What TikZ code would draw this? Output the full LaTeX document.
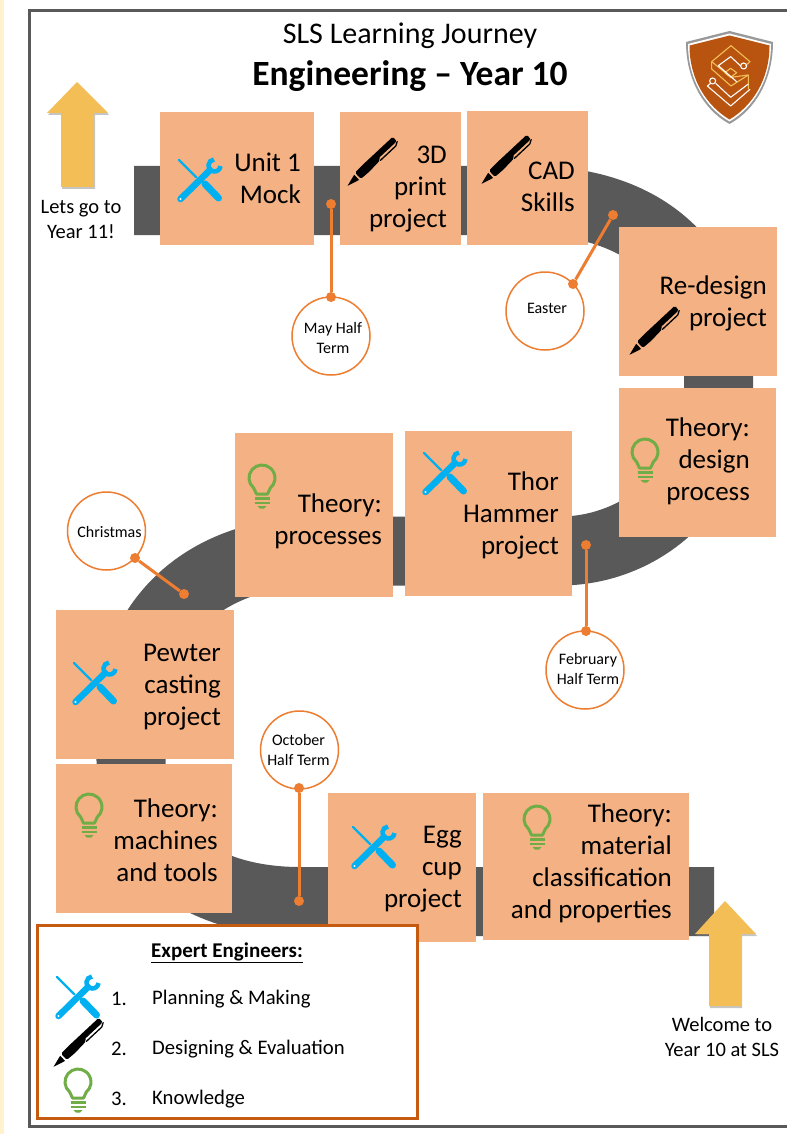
\documentclass[tikz,border=0pt]{standalone}
\usepackage{fontspec}
\setmainfont{Carlito}
\usetikzlibrary{shadows}
\definecolor{roadgrey}{HTML}{595959}
\definecolor{cardfill}{HTML}{F4B183}
\definecolor{pinorange}{HTML}{ED7D31}
\definecolor{boxorange}{HTML}{C55A11}
\definecolor{arrowgold}{HTML}{F4BE56}
\definecolor{toolblue}{HTML}{00B0F0}
\definecolor{bulbgreen}{HTML}{70AD47}
\definecolor{shieldbrown}{HTML}{B85410}
\definecolor{stripcream}{HTML}{FFF2CC}
\tikzset{
  card/.style={fill=cardfill,inner sep=0},
  cardlabel/.style={anchor=east,align=right,inner sep=0,font=\fontsize{27}{32}\selectfont},
  pinbubble/.style={circle,draw=pinorange,line width=1.5pt,fill=white,minimum size=78pt,inner sep=0},
  pinlabel/.style={align=center,inner sep=0,font=\fontsize{16}{20}\selectfont},
  pindot/.style={circle,fill=pinorange,minimum size=10pt,inner sep=0},
  pinline/.style={draw=pinorange,line width=3pt},
  sidelabel/.style={align=center,inner sep=0,font=\fontsize{20.5}{25}\selectfont},
  keylabel/.style={anchor=west,inner sep=0,font=\fontsize{20.7}{24}\selectfont},
  yeararrow/.style={fill=arrowgold,drop shadow={shadow xshift=1pt,shadow yshift=-2pt,opacity=0.45}}
}
\def\toolicon(#1){
  \begin{scope}[shift={(#1)}]
    \draw[toolblue,line width=2.4pt,line cap=round] (-21,-20) -- (-4,-3);
    \draw[toolblue,line width=7pt,line cap=round] (5,4) -- (18.5,18);
    \draw[toolblue,line width=6.5pt,line cap=round] (-19.5,19) -- (10,-10);
    \draw[toolblue,line width=4.5pt] (14.5,-14.5) ++(5:6) arc (5:265:6);
    \fill[white] (-19.5,19) circle (1.1);
  \end{scope}
}
\def\penicon(#1){
  \begin{scope}[shift={(#1)},rotate=43]
    \fill[black] (-33.5,0) -- (-23,-3) -- (-21,-3.5) -- (-21,3.5) -- (-23,3) -- cycle;
    \fill[black,rounded corners=1.5pt] (-19,-4.5) -- (-8,-5) -- (33,-5) -- (33,1) -- (8,1) -- (8,3.5) -- (-8,4.5) -- (-19,4) -- cycle;
    \draw[black,line width=1.3pt,line cap=round] (8,3.8) -- (29,3.8) -- (33,1.5);
  \end{scope}
}
\def\bulbicon(#1){
  \begin{scope}[shift={(#1)}]
    \draw[bulbgreen,line width=3pt,line join=round] (-5.5,8) -- (-8.36,1.96) arc (130:410:13) -- (5.5,8) -- cycle;
    \draw[bulbgreen,line width=2.6pt] (-7.5,12.5) -- (7.5,12.5);
    \draw[bulbgreen,line width=2.6pt] (-7.5,17) -- (7.5,17);
    \fill[bulbgreen] (-4.5,20) -- (4.5,20) -- (2,22.5) -- (-2,22.5) -- cycle;
  \end{scope}
}
\begin{document}
\begin{tikzpicture}[x=1pt,y=-1pt]
  \useasboundingbox (0,0) rectangle (787,1134);
  %%% page
  \fill[white] (0,0) rectangle (787,1134);
  \fill[stripcream] (0,0) rectangle (4,1134);
  \draw[roadgrey,line width=3pt] (787,11) -- (29,11) -- (29,1126.5) -- (787,1126.5);

  %%% road
  \draw[roadgrey,line width=69pt] (134,200.5) -- (530,200.5)
    .. controls (652,200.5) and (718.5,272) .. (718.5,376) -- (718.5,388)
    .. controls (718.5,490) and (640,551) .. (560,551) -- (320,551)
    .. controls (188,551) and (116,640) .. (131,759) -- (131,764)
    .. controls (131,850) and (200,901.5) .. (300,901.5) -- (714,901.5);

  %%% arrows
  \fill[yeararrow] (77,82) -- (108,113) -- (94,113) -- (94,187) -- (61,187) -- (61,113) -- (47,113) -- cycle;
  \fill[yeararrow] (725,901) -- (756,934) -- (741,934) -- (741,1006) -- (709,1006) -- (709,934) -- (695,934) -- cycle;
  \node[sidelabel] (goyear) at (81,219.5) {Lets go to\\Year 11!};
  \node[sidelabel] (welcome) at (722,1036.5) {Welcome to\\Year 10 at SLS};

  %%% title
  \node[inner sep=0,font=\fontsize{30}{36}\selectfont] (title) at (410,36) {SLS Learning Journey};
  \node[inner sep=0,font=\fontsize{35.5}{40}\bfseries\selectfont] (subtitle) at (410,76) {Engineering -- Year 10};

  %%% logo
  \fill[black!40] (729.5,31) -- (773,42) .. controls (773,80) and (755,110) .. (729.5,124) .. controls (704,110) and (686,80) .. (686,42) -- cycle;
  \fill[white] (729.5,33.5) -- (771,44) .. controls (771,80) and (753,108) .. (729.5,121.5) .. controls (706,108) and (688,80) .. (688,44) -- cycle;
  \fill[shieldbrown] (729.5,35.5) -- (769.5,45.5) .. controls (769.5,80) and (752,106) .. (729.5,119.5) .. controls (707,106) and (689.5,80) .. (689.5,45.5) -- cycle;
  \begin{scope}[shift={(600,0)},scale=0.3333,line join=round]
    \draw[arrowgold,line width=1.1pt] (436,198) -- (450,185) -- (393,137) -- (335,185) -- (335,207) -- (393,258) -- (445,225) -- (445,268);
    \draw[arrowgold,line width=1.1pt] (335,185) -- (393,232) -- (445,225);
    \draw[arrowgold,line width=1.1pt] (392,205) -- (410,218) -- (392,232) -- (374,218) -- cycle;
    \draw[white,line width=1.1pt] (422,198) -- (392,170) -- (355,197) -- (410,245);
    \draw[white,line width=1.1pt] (332,250) -- (322,258) -- (392,318) -- (450,268);
    \draw[white,line width=1.1pt] (347,250) -- (392,292) -- (445,252);
    \draw[white,line width=1.1pt] (431,198) circle (9);
    \draw[white,line width=1.1pt] (338,243) circle (9);
  \end{scope}

  %%% pins
  \node[pinbubble] (maybubble) at (331,336) {};
  \node[pinlabel] (maytext) at (333,337.5) {May Half\\Term};
  \node[pinbubble] (easterbubble) at (545,311) {};
  \node[pinlabel] (eastertext) at (547,308.5) {Easter};
  \node[pinbubble] (xmasbubble) at (106.5,531) {};
  \node[pinlabel] (xmastext) at (109.5,532) {Christmas};
  \node[pinbubble] (febbubble) at (585,670) {};
  \node[pinlabel] (febtext) at (588,668.5) {February\\Half Term};
  \node[pinbubble] (octbubble) at (299.5,750) {};
  \node[pinlabel] (octtext) at (298.5,749.5) {October\\Half Term};

  \node[pindot] (maytop) at (331,204) {};
  \node[pindot] (maybot) at (331,297) {};
  \draw[pinline] (maytop) -- (maybot);
  \node[pindot] (eastertop) at (613,215) {};
  \node[pindot] (easterbot) at (573,284) {};
  \draw[pinline] (eastertop) -- (easterbot);
  \node[pindot] (xmastop) at (135,558) {};
  \node[pindot] (xmasbot) at (184,594) {};
  \draw[pinline] (xmastop) -- (xmasbot);
  \node[pindot] (febtop) at (586,545) {};
  \node[pindot] (febbot) at (586,631) {};
  \draw[pinline] (febtop) -- (febbot);
  \node[pindot] (octtop) at (299,788) {};
  \node[pindot] (octbot) at (299,901) {};
  \draw[pinline] (octtop) -- (octbot);

  %%% cards
  \node[card,minimum width=154pt,minimum height=133pt] (unitcard) at (237,178.5) {};
  \node[cardlabel] (unittext) at (301,178.5) {Unit 1\\Mock};
  \node[card,minimum width=121pt,minimum height=133pt] (printcard) at (400.5,178.5) {};
  \node[cardlabel] (printtext) at (447,189) {3D\\print\\project};
  \node[card,minimum width=121pt,minimum height=134pt] (cadcard) at (527.5,178) {};
  \node[cardlabel] (cadtext) at (575,187) {CAD\\Skills};
  \node[card,minimum width=158pt,minimum height=149pt] (redesigncard) at (698,301.5) {};
  \node[cardlabel] (redesigntext) at (767,303.5) {Re-design\\project};
  \node[card,minimum width=157pt,minimum height=149pt] (designcard) at (697.5,462.5) {};
  \node[cardlabel] (designtext) at (750,461.5) {Theory:\\design\\process};
  \node[card,minimum width=167pt,minimum height=165pt] (thorcard) at (488.5,513.5) {};
  \node[cardlabel] (thortext) at (559,515) {Thor\\Hammer\\project};
  \node[card,minimum width=158pt,minimum height=164pt] (processcard) at (314,515) {};
  \node[cardlabel] (processtext) at (382,521.5) {Theory:\\processes};
  \node[card,minimum width=178pt,minimum height=149pt] (pewtercard) at (145,684.5) {};
  \node[cardlabel] (pewtertext) at (221,687) {Pewter\\casting\\project};
  \node[card,minimum width=176pt,minimum height=149pt] (machinecard) at (144,838.5) {};
  \node[cardlabel] (machinetext) at (218,840) {Theory:\\machines\\and tools};
  \node[card,minimum width=148pt,minimum height=149pt] (eggcard) at (402,867.5) {};
  \node[cardlabel] (eggtext) at (462,869) {Egg\\cup\\project};
  \node[card,minimum width=206pt,minimum height=147pt] (materialcard) at (586,866.5) {};
  \node[cardlabel] (materialtext) at (672,863.5) {Theory:\\material\\classification\\and properties};

  %%% card icons
  \toolicon(200,180)
  \penicon(372,163)
  \penicon(506,161)
  \penicon(654,332)
  \bulbicon(645,460)
  \toolicon(445,473)
  \bulbicon(262,486)
  \toolicon(95,683)
  \bulbicon(89,815)
  \toolicon(374,847)
  \bulbicon(537,827)

  %%% legend
  \draw[boxorange,line width=3pt,fill=white] (37.5,925) rectangle (417.5,1118);
  \node[inner sep=0,font=\fontsize{21}{24}\bfseries\selectfont] (legendtitle) at (227,952.5) {\underline{Expert Engineers:}};
  \toolicon(78,997)
  \penicon(78,1044)
  \bulbicon(78,1090)
  \node[keylabel] (numone) at (111,999) {1.};
  \node[keylabel] (keyone) at (152,999) {Planning \& Making};
  \node[keylabel] (numtwo) at (111,1049) {2.};
  \node[keylabel] (keytwo) at (152,1049) {Designing \& Evaluation};
  \node[keylabel] (numthree) at (111,1099) {3.};
  \node[keylabel] (keythree) at (152,1099) {Knowledge};
\end{tikzpicture}
\end{document}
